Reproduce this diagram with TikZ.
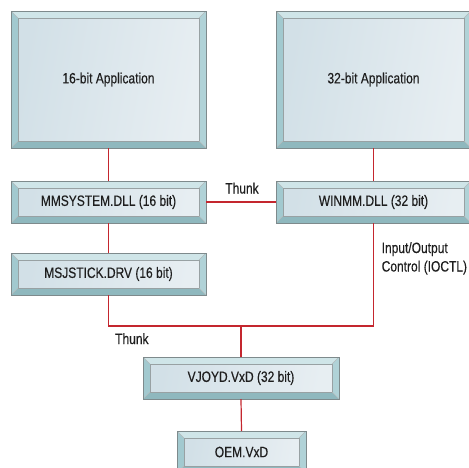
\documentclass[tikz,border=0pt]{standalone}
\usepackage{fontspec}
\setmainfont{Liberation Sans}[FakeStretch=0.8, FakeBold=0.3]
\usetikzlibrary{calc}

\definecolor{bvtop}{HTML}{CFE5E8}
\definecolor{bvleft}{HTML}{A2C9CF}
\definecolor{bvright}{HTML}{B0D2D7}
\definecolor{bvbottom}{HTML}{8FB8BE}
\definecolor{facel}{HTML}{D2E0E7}
\definecolor{facer}{HTML}{E7EEF2}
\definecolor{edgegray}{HTML}{7E8A8C}
\definecolor{wire}{HTML}{C4262E}
\definecolor{ink}{HTML}{1E1E1E}

\def\bw{7pt}

\tikzset{
  bevelbox/.style={
    draw=edgegray, line width=0.8pt, inner sep=0pt, outer sep=0pt,
    text=ink, font=\fontsize{15}{17}\selectfont,
    path picture={
      \fill[bvtop] (path picture bounding box.north west) -- (path picture bounding box.north east)
        -- ([shift={(-\bw,-\bw)}]path picture bounding box.north east)
        -- ([shift={(\bw,-\bw)}]path picture bounding box.north west) -- cycle;
      \fill[bvbottom] (path picture bounding box.south west) -- (path picture bounding box.south east)
        -- ([shift={(-\bw,\bw)}]path picture bounding box.south east)
        -- ([shift={(\bw,\bw)}]path picture bounding box.south west) -- cycle;
      \fill[bvleft] (path picture bounding box.north west) -- (path picture bounding box.south west)
        -- ([shift={(\bw,\bw)}]path picture bounding box.south west)
        -- ([shift={(\bw,-\bw)}]path picture bounding box.north west) -- cycle;
      \fill[bvright] (path picture bounding box.north east) -- (path picture bounding box.south east)
        -- ([shift={(-\bw,\bw)}]path picture bounding box.south east)
        -- ([shift={(-\bw,-\bw)}]path picture bounding box.north east) -- cycle;
      \shade[left color=facel, right color=facer, shading angle=80]
        ([shift={(\bw,-\bw)}]path picture bounding box.north west)
        rectangle ([shift={(-\bw,\bw)}]path picture bounding box.south east);
      \draw[edgegray!80, line width=0.5pt]
        ([shift={(\bw,-\bw)}]path picture bounding box.north west)
        rectangle ([shift={(-\bw,\bw)}]path picture bounding box.south east);
      \draw[edgegray!60, line width=0.4pt]
        (path picture bounding box.north west) -- ([shift={(\bw,-\bw)}]path picture bounding box.north west)
        (path picture bounding box.north east) -- ([shift={(-\bw,-\bw)}]path picture bounding box.north east)
        (path picture bounding box.south west) -- ([shift={(\bw,\bw)}]path picture bounding box.south west)
        (path picture bounding box.south east) -- ([shift={(-\bw,\bw)}]path picture bounding box.south east);
    }
  },
  link/.style={draw=wire, line width=1.2pt},
  tag/.style={text=ink, font=\fontsize{15}{18.5}\selectfont, inner sep=0pt}
}

\begin{document}
\begin{tikzpicture}[x=1pt, y=-1pt]
  \useasboundingbox (0,0) rectangle (469,467);
  \clip (0,0) rectangle (469,467);
  \fill[white] (0,0) rectangle (469,467);

  % junction where the two thunk paths meet above VJOYD
  \coordinate (bus) at (241,326);

  % application layer
  \node[bevelbox, minimum width=195pt, minimum height=137pt] (app16) at (108.5,79.5) {16-bit Application};
  \node[bevelbox, minimum width=195pt, minimum height=137pt] (app32) at (373.5,79.5) {32-bit Application};

  % multimedia DLLs
  \node[bevelbox, minimum width=195pt, minimum height=42pt] (mmsys) at (108.5,202) {MMSYSTEM.DLL (16 bit)};
  \node[bevelbox, minimum width=195pt, minimum height=42pt] (winmm) at (373.5,202) {WINMM.DLL (32 bit)};

  % driver and VxDs
  \node[bevelbox, minimum width=195pt, minimum height=42pt] (msj) at (108.5,274) {MSJSTICK.DRV (16 bit)};
  \node[bevelbox, minimum width=196pt, minimum height=42pt] (vjoyd) at (241,378) {VJOYD.VxD (32 bit)};
  \node[bevelbox, minimum width=129pt, minimum height=42pt] (oem) at (241.5,452) {OEM.VxD};

  % connectors
  \draw[link] (app16.south) -- (mmsys.north);
  \draw[link] (app32.south) -- (winmm.north);
  \draw[link] (mmsys.east) -- (winmm.west);
  \draw[link] (mmsys.south) -- (msj.north);
  \draw[link] (msj.south) |- (bus) -| (winmm.south);
  \draw[link] (bus) -- (vjoyd.north);
  \draw[link] (vjoyd.south) -- (oem.north);

  % labels
  \node[tag, anchor=base] (thunktop) at (242,193.5) {Thunk};
  \node[tag, anchor=base west] (thunklow) at (115,344) {Thunk};
  \node[tag, anchor=base west, align=left] (ioctl) at (381.5,271.5) {Input/Output\\Control (IOCTL)};
\end{tikzpicture}
\end{document}
